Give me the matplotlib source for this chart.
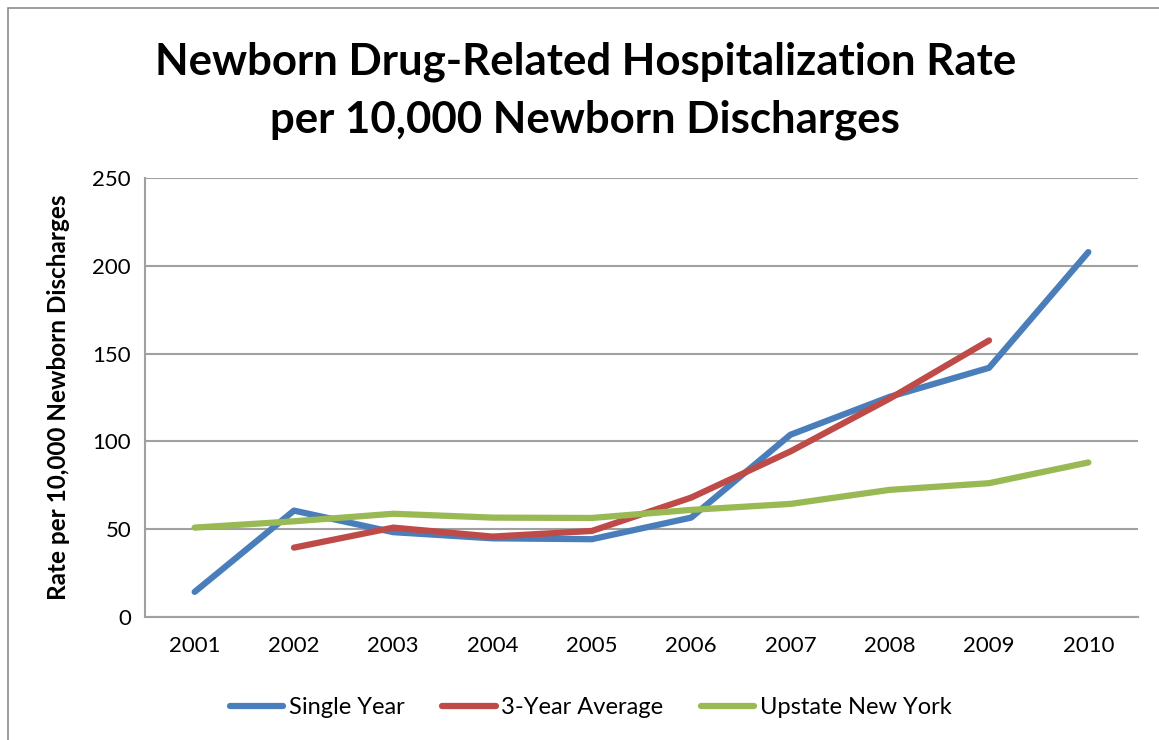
import matplotlib.pyplot as plt
from matplotlib.patches import Rectangle

years = ['2001', '2002', '2003', '2004', '2005', '2006', '2007', '2008', '2009', '2010']
single_year = [14.3, 60.6, 48.3, 44.8, 44.3, 56.6, 103.8, 125.4, 141.9, 207.8]
three_year_avg = [None, 39.5, 50.9, 45.8, 49.0, 68.0, 94.3, 124.4, 157.5, None]
upstate_ny = [50.9, 54.5, 58.8, 56.6, 56.4, 61.0, 64.4, 72.4, 76.2, 88.0]

plt.rcParams['font.family'] = ['Lato', 'DejaVu Sans']

fig = plt.figure(figsize=(11.59, 7.40), dpi=100)
ax = fig.add_axes([145 / 1159, 1 - 617 / 740, (1138 - 145) / 1159, (617 - 178) / 740])

x = list(range(len(years)))
x3 = [i for i, v in zip(x, three_year_avg) if v is not None]
y3 = [v for v in three_year_avg if v is not None]

ax.plot(x, single_year, color='#4A7EBB', lw=4.5, solid_capstyle='round', solid_joinstyle='round', label='Single Year')
ax.plot(x3, y3, color='#BE4B48', lw=4.5, solid_capstyle='round', solid_joinstyle='round', label='3-Year Average')
ax.plot(x, upstate_ny, color='#98B954', lw=4.5, solid_capstyle='round', solid_joinstyle='round', label='Upstate New York')

ax.set_xlim(-0.5, len(years) - 0.5)
ax.set_ylim(0, 250)
ax.set_yticks([0, 50, 100, 150, 200, 250])
ax.set_xticks(x)
ax.set_xticklabels(years)
ax.tick_params(axis='both', length=0, labelsize=16)
ax.tick_params(axis='x', pad=14)
ax.tick_params(axis='y', pad=10)
ax.grid(axis='y', color='#A0A0A0', lw=1.5)
ax.set_axisbelow(True)
for side in ['top', 'right']:
    ax.spines[side].set_visible(False)
for side in ['left', 'bottom']:
    ax.spines[side].set_color('#A0A0A0')
    ax.spines[side].set_linewidth(1.5)

ax.set_ylabel('Rate per 10,000 Newborn Discharges', fontsize=17.5, fontweight='bold', labelpad=16)

fig.text(0.505, 1 - 62 / 740, 'Newborn Drug-Related Hospitalization Rate', ha='center', va='center',
         fontsize=31.5, fontweight='bold')
fig.text(0.505, 1 - 120 / 740, 'per 10,000 Newborn Discharges', ha='center', va='center',
         fontsize=31.5, fontweight='bold')

fig.legend(loc='center', bbox_to_anchor=(591 / 1159, 1 - 708 / 740), ncol=3, frameon=False,
           fontsize=17, handlelength=2.25, columnspacing=1.6, handletextpad=0.25)

fig.patches.append(Rectangle((8 / 1159, -0.01), 1.02, 1 - 8 / 740 + 0.01, transform=fig.transFigure,
                             fill=False, edgecolor='#8C8C8C', lw=1.2))

fig.savefig('out.png', dpi=100)
